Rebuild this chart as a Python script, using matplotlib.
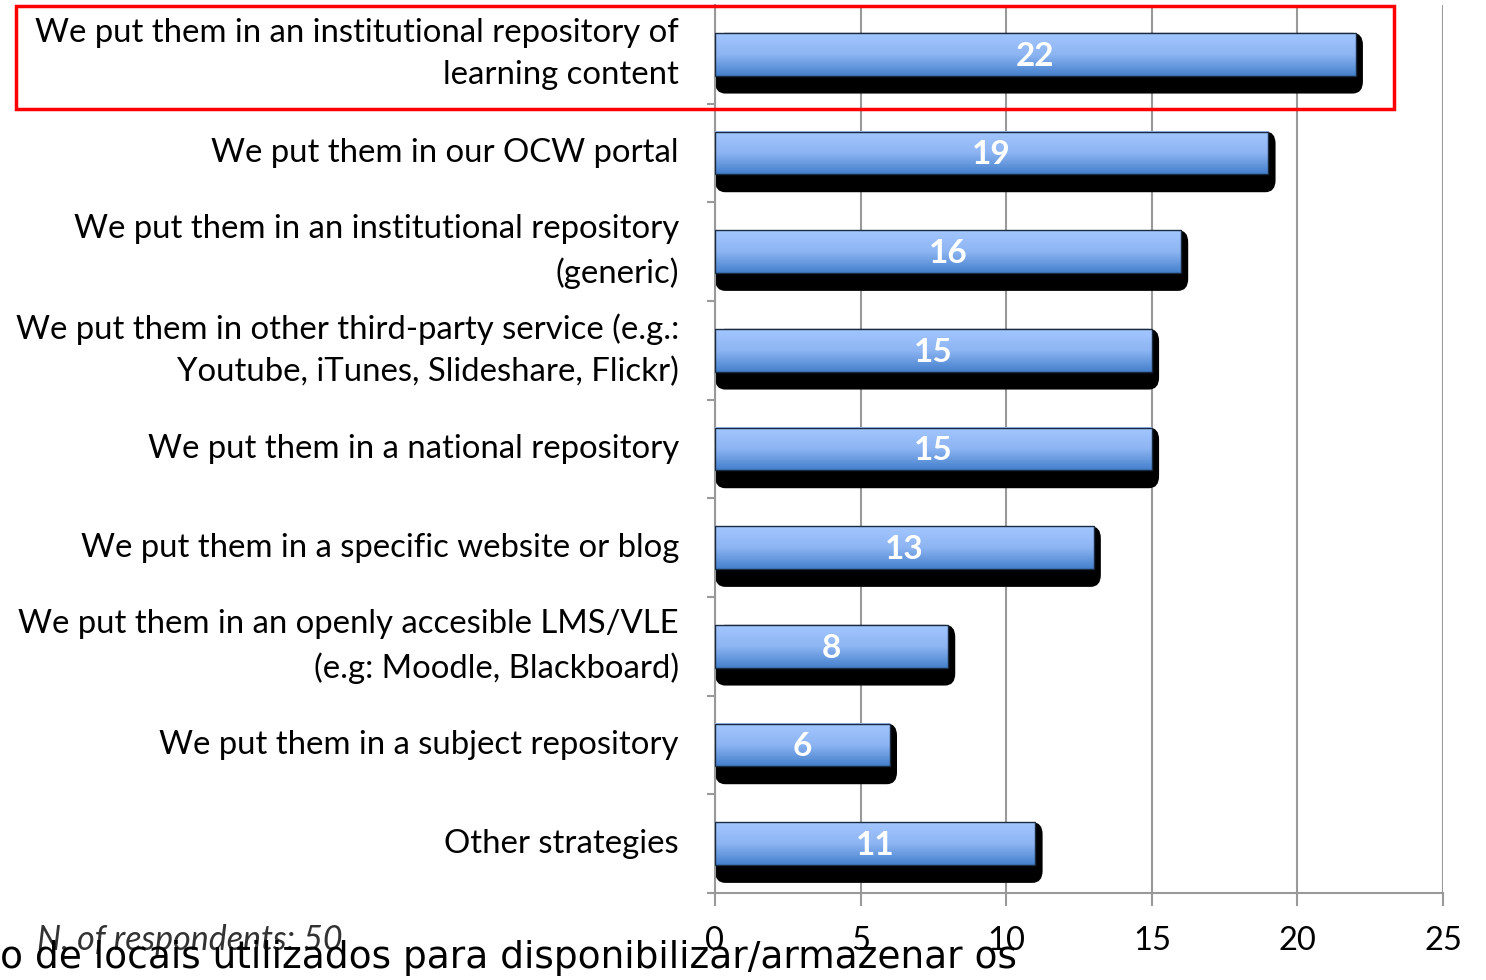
import numpy as np
import matplotlib.pyplot as plt
from matplotlib.colors import LinearSegmentedColormap
from matplotlib.patches import FancyBboxPatch, Rectangle

categories = [
    "We put them in an institutional repository of\nlearning content",
    "We put them in our OCW portal",
    "We put them in an institutional repository\n(generic)",
    "We put them in other third-party service (e.g.:\nYoutube, iTunes, Slideshare, Flickr)",
    "We put them in a national repository",
    "We put them in a specific website or blog",
    "We put them in an openly accesible LMS/VLE\n(e.g: Moodle, Blackboard)",
    "We put them in a subject repository",
    "Other strategies",
]
values = [22, 19, 16, 15, 15, 13, 8, 6, 11]
xticks = [0, 5, 10, 15, 20, 25]
note = "N. of respondents: 50"
caption = "o de locais utilizados para disponibilizar/armazenar os"

W, H = 1486, 980
fig = plt.figure(figsize=(W / 100, H / 100), dpi=100)
ax = fig.add_axes([715 / W, 1 - 893 / H, (1443 - 715) / W, (893 - 5) / H])

font = "Lato"
grad_cmap = LinearSegmentedColormap.from_list("barblue", ["#a3c6ff", "#8db5f2", "#4580cc"])
grad = np.linspace(0, 1, 64).reshape(-1, 1)

h = 0.435
for i, v in enumerate(values):
    # black 3d shadow under / right of each bar
    sh = FancyBboxPatch((0, i - h / 2), v + 0.25, h + 0.18,
                        boxstyle="round,pad=0,rounding_size=0.35",
                        mutation_aspect=0.35, facecolor="black",
                        edgecolor="none", zorder=2)
    ax.add_patch(sh)
    ax.imshow(grad, extent=[0, v, i + h / 2, i - h / 2], aspect="auto",
              cmap=grad_cmap, origin="upper", zorder=3, interpolation="bilinear")
    ax.add_patch(Rectangle((0, i - h / 2), v, h, fill=False,
                           edgecolor="#1a2a40", linewidth=1, zorder=4))
    ax.text(v / 2, i + 0.02, str(v), color="white", fontweight="bold", fontsize=24,
            family=font, ha="center", va="center", zorder=5)

ax.set_xlim(0, 25)
ax.set_ylim(len(values) - 0.5, -0.5)
ax.set_xticks(xticks)
ax.set_xticklabels([str(t) for t in xticks], fontsize=23.5, family=font)
ax.set_yticks(range(len(categories)))
ax.set_yticklabels(categories, fontsize=23.7, family=font, linespacing=1.5, va="center")
ax.set_yticks(np.arange(len(categories)) + 0.5, minor=True)
ax.tick_params(axis="y", which="major", length=0, pad=26)
ax.tick_params(axis="y", which="minor", length=6, color="#999999", width=1.5)
ax.tick_params(axis="x", length=9, color="#999999", width=1.5, pad=15)

ax.grid(axis="x", color="#999999", linewidth=1.5, zorder=0)
ax.set_axisbelow(True)
for s in ["top", "right"]:
    ax.spines[s].set_visible(False)
for s in ["left", "bottom"]:
    ax.spines[s].set_color("#999999")
    ax.spines[s].set_linewidth(1.5)

# red highlight around the first row
fig.patches.append(Rectangle((16 / W, 1 - 109 / H), (1394 - 16) / W, (109 - 6) / H,
                             transform=fig.transFigure, fill=False,
                             edgecolor="red", linewidth=2.5))

fig.text(37 / W, 1 - 940 / H, note, fontsize=24.5, family=font, style="italic",
         color="#333333", ha="left", va="center")
fig.text(0, 1 - 958 / H, caption, fontsize=27, family="DejaVu Sans",
         color="black", ha="left", va="center")

fig.savefig("out.png", dpi=100)
